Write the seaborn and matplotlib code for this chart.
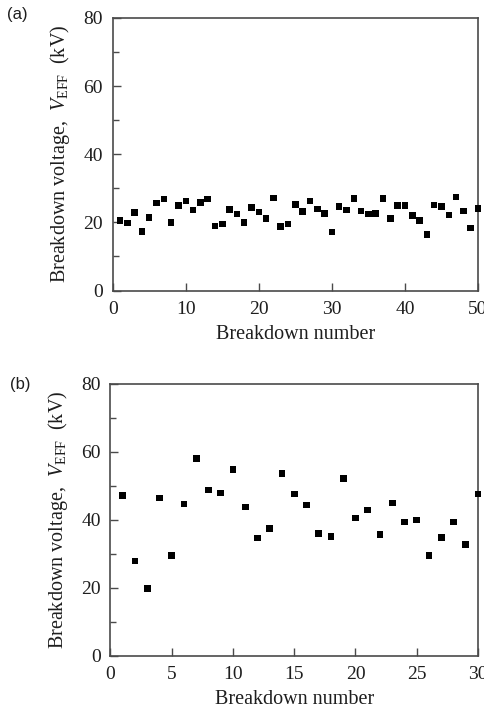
import numpy as np
import pandas as pd
import matplotlib
matplotlib.use("Agg")
import matplotlib.pyplot as plt
from matplotlib.ticker import MultipleLocator
import seaborn as sns

# Panel (a) data
a_number = list(range(1, 51))
a_voltage = [20.5, 19.8, 22.9, 17.3, 21.4, 25.7, 26.9, 20.0, 24.9, 26.3,
             23.7, 25.9, 26.8, 19.0, 19.5, 23.8, 22.4, 19.9, 24.3, 23.1,
             21.1, 27.1, 18.8, 19.5, 25.3, 23.2, 26.3, 23.9, 22.6, 17.2,
             24.6, 23.7, 27.0, 23.3, 22.4, 22.6, 27.0, 21.1, 25.0, 24.9,
             22.0, 20.5, 16.5, 25.1, 24.6, 22.1, 27.4, 23.4, 18.4, 24.1]

# Panel (b) data
b_number = list(range(1, 31))
b_voltage = [47.1, 27.9, 19.8, 46.4, 29.5, 44.6, 58.0, 48.8, 47.9, 54.8,
             43.7, 34.7, 37.5, 53.6, 47.6, 44.3, 35.9, 35.1, 52.1, 40.5,
             42.9, 35.6, 44.9, 39.4, 39.9, 29.5, 34.8, 39.4, 32.7, 47.6]

sns.set_style("ticks")
plt.rcParams["font.family"] = ["Liberation Serif", "DejaVu Serif"]
plt.rcParams["mathtext.fontset"] = "custom"
plt.rcParams["mathtext.rm"] = "Liberation Serif"
plt.rcParams["mathtext.it"] = "Liberation Serif:italic"

W, H = 485, 714
fig = plt.figure(figsize=(W / 100, H / 100), dpi=100)

def make_axes(left, top, right, bottom):
    return fig.add_axes([left / W, 1 - bottom / H, (right - left) / W, (bottom - top) / H])

ax_a = make_axes(112.7, 18, 478, 290.5)
ax_b = make_axes(110.5, 383.5, 478, 656)

df_a = pd.DataFrame({"n": a_number, "v": a_voltage})
df_b = pd.DataFrame({"n": b_number, "v": b_voltage})

spine_col = "#4a4a4a"
text_col = "#1e1e1e"
for ax, df, xmax, xmaj, tag, tagx, tagy in [
    (ax_a, df_a, 50, 10, "(a)", 17, 15),
    (ax_b, df_b, 30, 5, "(b)", 20, 385),
]:
    sns.scatterplot(data=df, x="n", y="v", ax=ax, marker="s", s=22,
                    color="black", edgecolor="none", clip_on=False, zorder=5)
    ax.set_xlim(0, xmax)
    ax.set_ylim(0, 80)
    ax.xaxis.set_major_locator(MultipleLocator(xmaj))
    ax.yaxis.set_major_locator(MultipleLocator(20))
    ax.yaxis.set_minor_locator(MultipleLocator(10))
    ax.tick_params(axis="both", which="both", direction="in", colors=spine_col,
                   labelcolor=text_col, labelsize=14, width=1.0)
    ax.tick_params(axis="both", which="major", length=5.5)
    ax.tick_params(axis="y", which="minor", length=4.5)
    ax.tick_params(axis="x", pad=7.5)
    ax.tick_params(axis="y", pad=7)
    for sp in ax.spines.values():
        sp.set_visible(True)
        sp.set_color(spine_col)
        sp.set_linewidth(1.2)
    ax.set_xlabel("Breakdown number", fontsize=14.5, color=text_col, labelpad=5)
    ax.set_ylabel(r"Breakdown voltage,  $V_{\mathrm{EFF}}$  (kV)", fontsize=14.5,
                  color=text_col, labelpad=8)
    fig.text(tagx / W, 1 - tagy / H, tag, family=["Liberation Sans", "DejaVu Sans"],
             fontsize=12, va="center", ha="center", color=text_col)

fig.savefig("out.png", dpi=100, facecolor="white")
